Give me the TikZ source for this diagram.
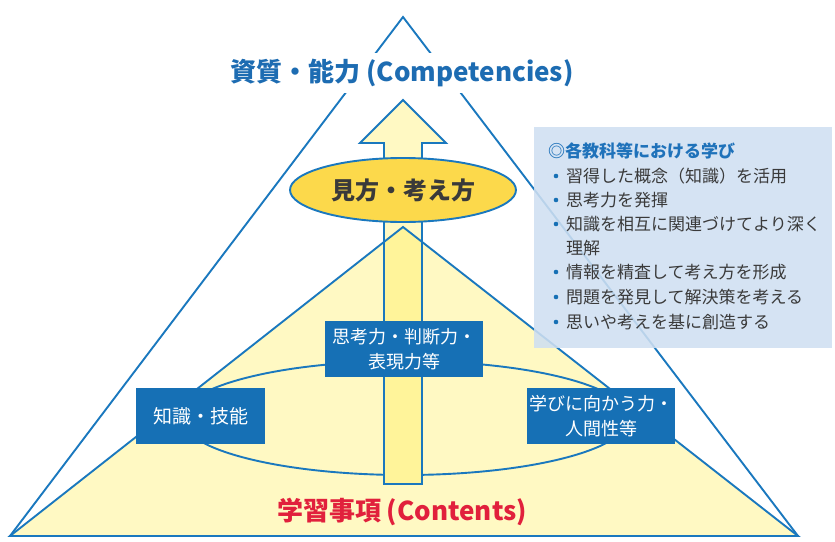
\documentclass[tikz,border=0pt]{standalone}
\usepackage{fontspec}
\usetikzlibrary{shapes.geometric}
\setmainfont{Noto Sans CJK JP}
\begin{document}
\begin{tikzpicture}[x=1pt,y=-1pt,
  blueline/.style={draw=lineblue,line width=1.9pt},
  bluebox/.style={fill=boxblue,text=white,align=center,inner sep=0pt,font=\fontsize{18}{25}\selectfont},
  infotext/.style={anchor=west,text=infogray,inner sep=0pt,font=\fontsize{17}{17}\selectfont},
  bul/.style={circle,fill=boxblue,minimum size=4.6pt,inner sep=0pt}
]
\definecolor{lineblue}{HTML}{1A78BE}
\definecolor{boxblue}{HTML}{1670B5}
\definecolor{titleblue}{HTML}{1D6CB2}
\definecolor{headblue}{HTML}{1F72BA}
\definecolor{infogray}{HTML}{3A3A3A}
\definecolor{redtxt}{HTML}{E1203C}
\definecolor{gold}{HTML}{FCD94B}
\definecolor{lightyel}{HTML}{FFF9C3}
\definecolor{shaftyel}{HTML}{FFF49A}
\definecolor{infobg}{HTML}{CFDFF1}
\useasboundingbox (0,0) rectangle (835,541);
% coordinates
\coordinate (OA) at (403,17);
\coordinate (BL) at (10,536);
\coordinate (BR) at (798,536);
\coordinate (IA) at (403,227);
% inner triangle fill
\fill[lightyel] (IA) -- (BR) -- (BL) -- cycle;
% outer triangle
\draw[blueline,line join=miter] (OA) -- (BR) -- (BL) -- cycle;
% large ellipse
\draw[blueline] (405,418) ellipse [x radius=224, y radius=57];
% arrow
\fill[lightyel] (384,484) -- (384,143) -- (360,143) -- (403,100) -- (446,143) -- (422,143) -- (422,484) -- cycle;
\begin{scope}
  \clip (IA) -- (BR) -- (BL) -- cycle;
  \fill[shaftyel] (384,484) -- (384,143) -- (422,143) -- (422,484) -- cycle;
\end{scope}
\draw[blueline,line join=miter] (384,484) -- (384,143) -- (360,143) -- (403,100) -- (446,143) -- (422,143) -- (422,484) -- cycle;
% inner triangle edges
\draw[blueline,line join=miter] (IA) -- (BR) -- (BL) -- cycle;
% view ellipse
\node[ellipse,draw=lineblue,line width=1.9pt,fill=gold,minimum width=226pt,minimum height=64pt,inner sep=0pt,
  text=infogray,font=\bfseries\fontsize{24}{24}\selectfont] (view) at (403,190) {見方・考え方};
% blue boxes
\node[bluebox,minimum width=158pt,minimum height=56pt] (think) at (404,349) {思考力・判断力・\\表現力等};
\node[bluebox,minimum width=129pt,minimum height=56pt,font=\fontsize{19}{25}\selectfont] (know) at (200.5,416) {知識・技能};
\node[bluebox,minimum width=148pt,minimum height=56pt] (learn) at (601,416) {学びに向かう力・\\人間性等};
% titles
\node[fill=white,inner sep=0pt,minimum height=40pt,text=titleblue,font=\bfseries\fontsize{26}{26}\selectfont] (comp) at (402,73) {資質・能力 (Competencies)};
\node[text=redtxt,inner sep=0pt,font=\bfseries\fontsize{26}{26}\selectfont] (cont) at (402,512) {学習事項 (Contents)};
% info box
\node[fill=infobg,fill opacity=0.88,minimum width=298pt,minimum height=221pt,inner sep=0pt] (info) at (683,237.5) {};
\node[anchor=west,inner sep=0pt,text=headblue,font=\bfseries\fontsize{17}{17}\selectfont] (head) at (548,151) {◎各教科等における学び};
\node[bul] (b1) at (556,176) {};
\node[infotext] (t1) at (566,176) {習得した概念（知識）を活用};
\node[bul] (b2) at (556,200) {};
\node[infotext] (t2) at (566,200) {思考力を発揮};
\node[bul] (b3) at (556,224) {};
\node[infotext] (t3) at (566,224) {知識を相互に関連づけてより深く};
\node[infotext] (t3b) at (566,248) {理解};
\node[bul] (b4) at (556,272) {};
\node[infotext] (t4) at (566,272) {情報を精査して考え方を形成};
\node[bul] (b5) at (556,297) {};
\node[infotext] (t5) at (566,297) {問題を発見して解決策を考える};
\node[bul] (b6) at (556,322) {};
\node[infotext] (t6) at (566,322) {思いや考えを基に創造する};
\end{tikzpicture}
\end{document}
